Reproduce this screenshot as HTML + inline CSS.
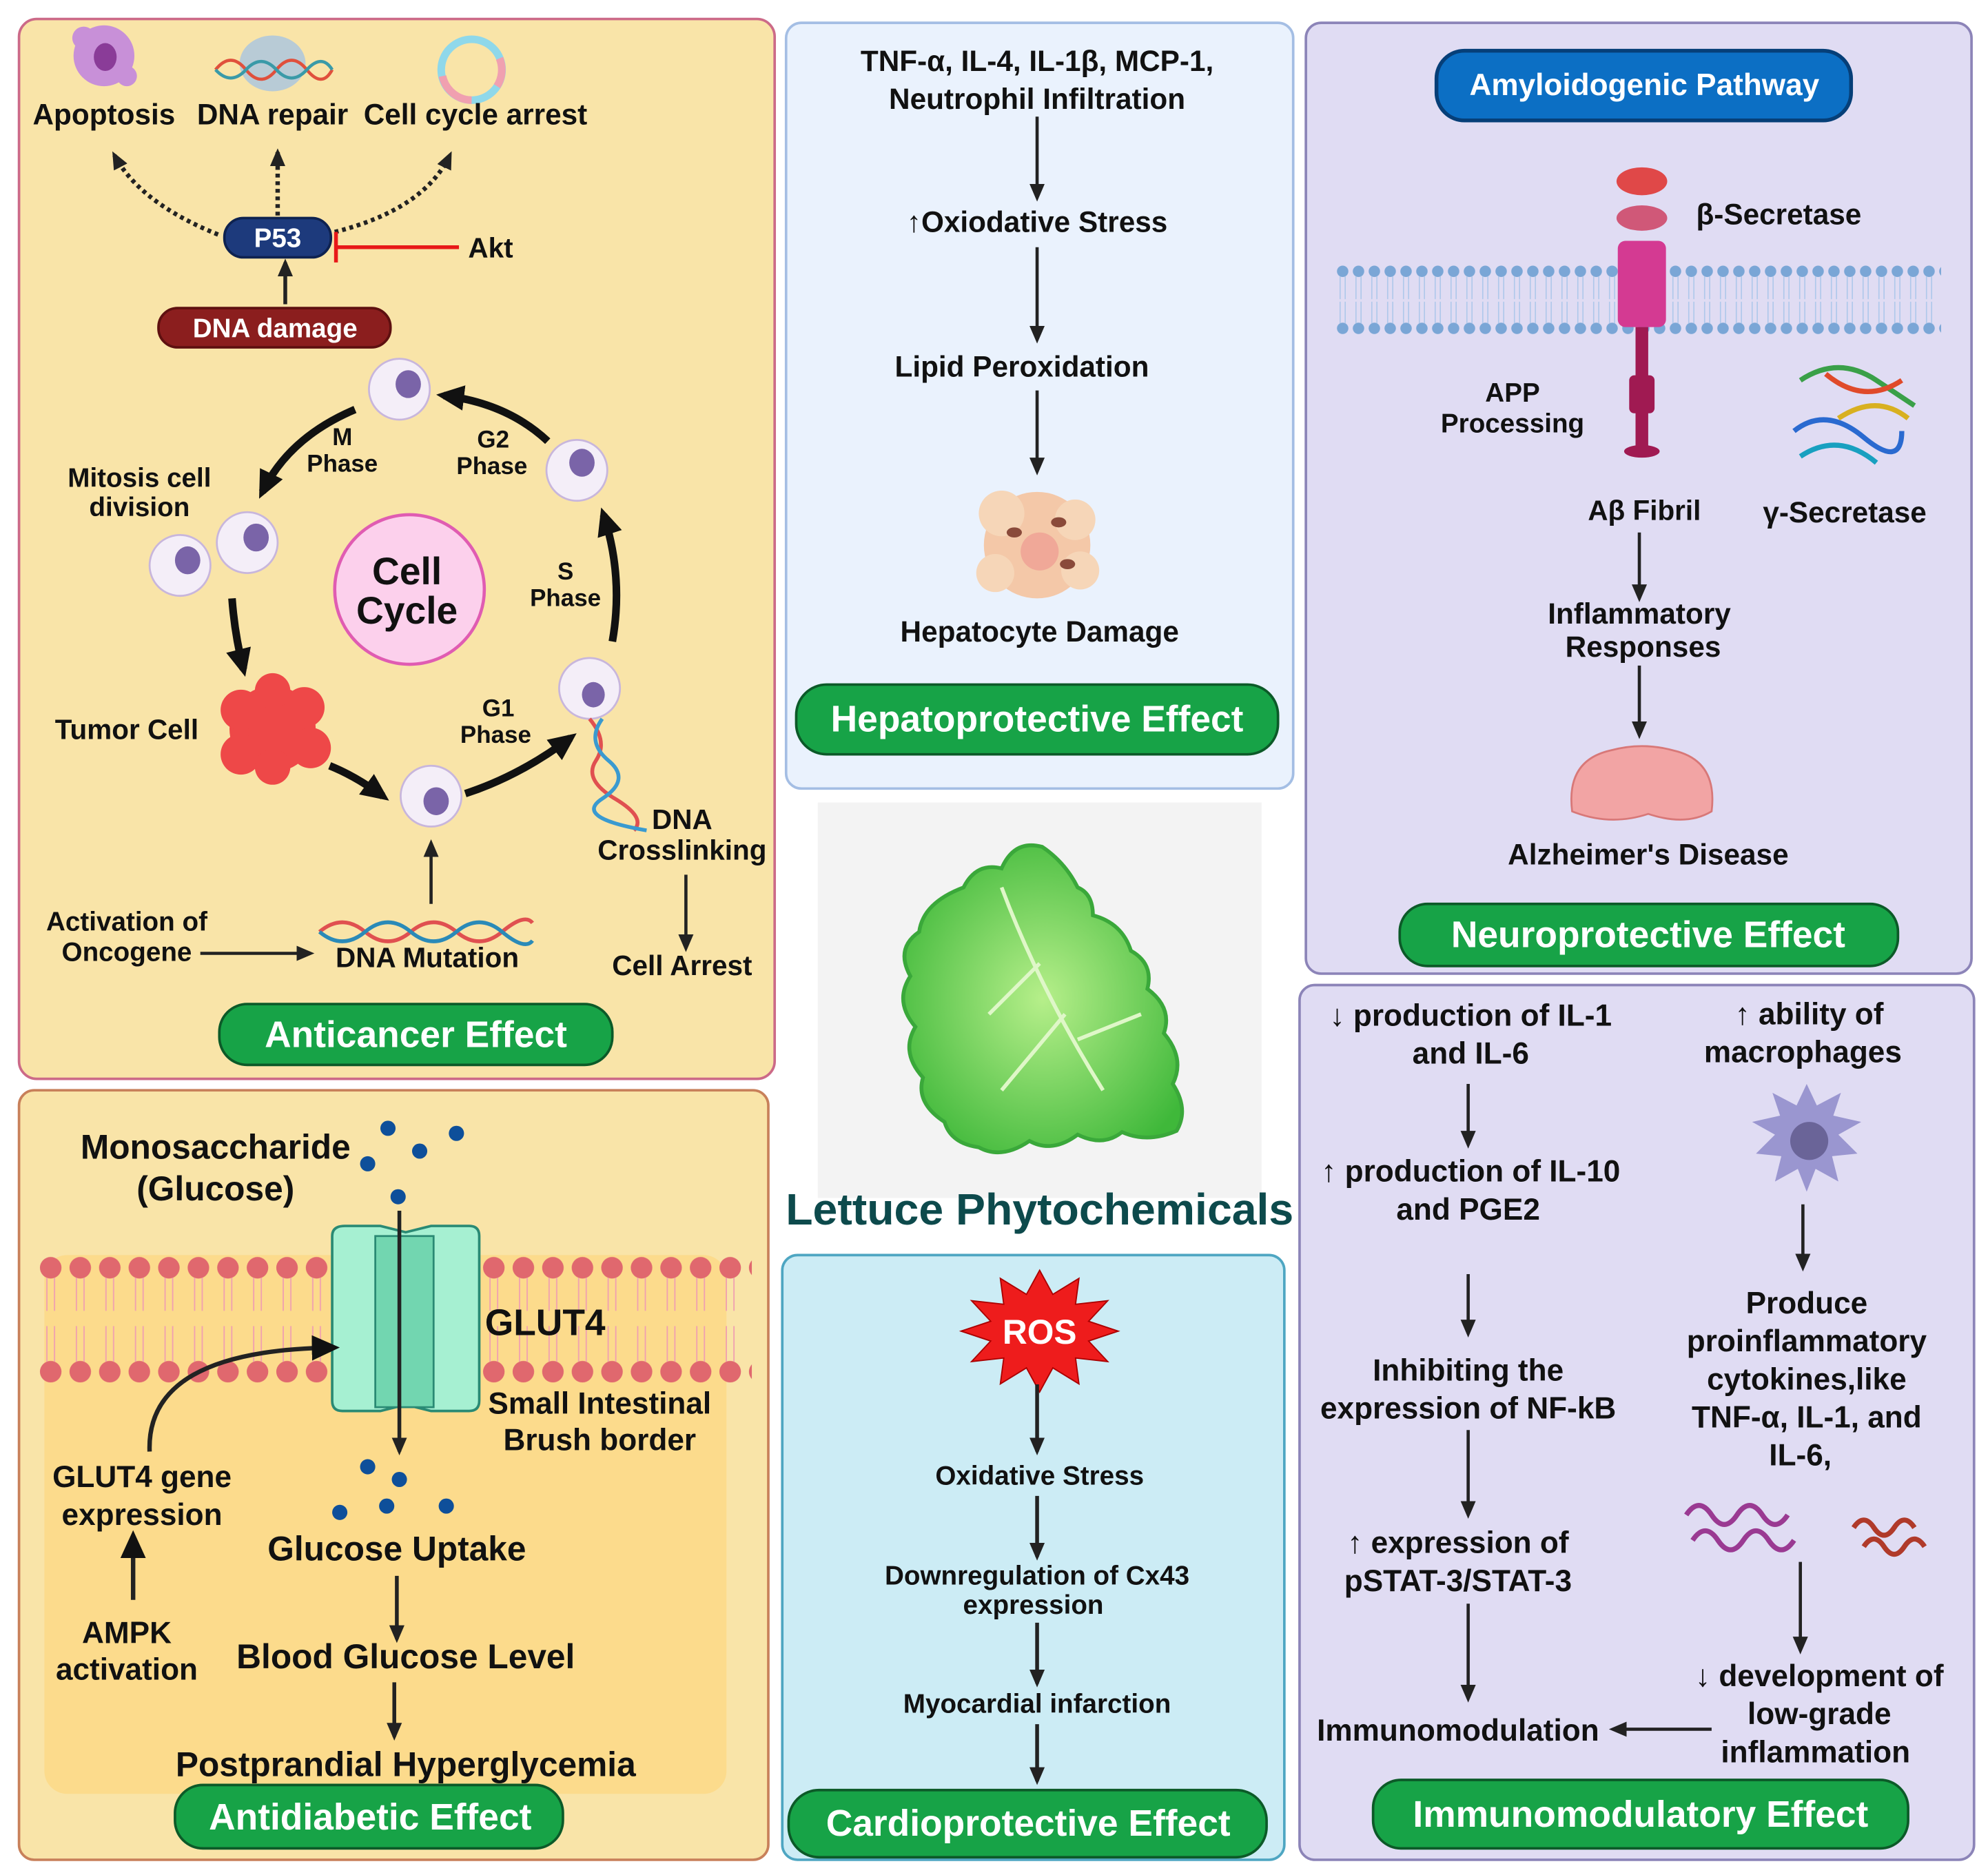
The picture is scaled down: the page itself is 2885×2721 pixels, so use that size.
<!DOCTYPE html>
<html><head><meta charset="utf-8"><style>
html,body{margin:0;padding:0;background:#fff}
svg{display:block}
text{font-family:"Liberation Sans",sans-serif;font-weight:bold;fill:#111}
.c{text-anchor:middle}
.w{fill:#fff}
</style></head><body>
<svg width="2885" height="2721" viewBox="0 0 1568 1479" preserveAspectRatio="none" xmlns="http://www.w3.org/2000/svg">
<defs>
<marker id="a" markerWidth="14" markerHeight="14" refX="11" refY="7" orient="auto" markerUnits="userSpaceOnUse"><path d="M0,1 L14,7 L0,13 z" fill="#222"/></marker>
<marker id="b" markerWidth="22" markerHeight="22" refX="16" refY="11" orient="auto" markerUnits="userSpaceOnUse"><path d="M0,1 L22,11 L0,21 z" fill="#111"/></marker>
<pattern id="heads" x="31" y="990" width="23.3" height="104" patternUnits="userSpaceOnUse">
<circle cx="9" cy="10" r="8.5" fill="#e0686e"/>
<circle cx="9" cy="92" r="8.5" fill="#e0686e"/>
<path d="M6,18 L6,44 M12,18 L12,44 M6,56 L6,84 M12,56 L12,84" stroke="#f0a0b0" stroke-width="1"/>
</pattern>
<pattern id="bmem" x="1053" y="206" width="12.5" height="60" patternUnits="userSpaceOnUse">
<circle cx="6" cy="8" r="4.5" fill="#7aa6d6"/>
<circle cx="6" cy="53" r="4.5" fill="#7aa6d6"/>
<path d="M4,12 L4,30 M8,12 L8,30 M4,32 L4,49 M8,32 L8,49" stroke="#a9c6ea" stroke-width="0.8"/>
</pattern>
<radialGradient id="leaf" cx="0.5" cy="0.5" r="0.6"><stop offset="0" stop-color="#b6ef8a"/><stop offset="1" stop-color="#3fb83a"/></radialGradient>
</defs>

<!-- ========== ANTICANCER ========== -->
<rect x="15" y="15" width="596" height="836" rx="14" fill="#f9e4a8" stroke="#cc6a88" stroke-width="2"/>
<circle cx="82" cy="44" r="24" fill="#c890d8"/><circle cx="66" cy="30" r="9" fill="#c890d8"/><circle cx="100" cy="60" r="8" fill="#c890d8"/><ellipse cx="83" cy="45" rx="9" ry="11" fill="#8a3c98"/>
<ellipse cx="215" cy="50" rx="26" ry="22" fill="#b8cbd6"/>
<path d="M170,55 Q182,40 194,55 T218,55 T242,55 T262,55" stroke="#e0503c" stroke-width="2.5" fill="none"/>
<path d="M170,55 Q182,68 194,55 T218,55 T242,55 T262,55" stroke="#3a9aa8" stroke-width="2.5" fill="none"/>
<circle cx="372" cy="55" r="24" fill="none" stroke="#8fd8ea" stroke-width="6"/>
<path d="M372,79 A24,24 0 0 1 349,60" stroke="#f0a0b0" stroke-width="6" fill="none"/>
<path d="M394,46 A24,24 0 0 1 392,68" stroke="#f0a0b0" stroke-width="6" fill="none"/>
<text x="82" y="98" class="c" font-size="23">Apoptosis</text>
<text x="215" y="98" class="c" font-size="23">DNA repair</text>
<text x="375" y="98" class="c" font-size="23">Cell cycle arrest</text>
<path d="M172,185 Q110,160 90,122" stroke="#222" stroke-width="3.5" stroke-dasharray="3,3" fill="none" marker-end="url(#a)"/>
<path d="M219,170 L219,120" stroke="#222" stroke-width="3.5" stroke-dasharray="3,3" fill="none" marker-end="url(#a)"/>
<path d="M264,183 Q335,165 355,122" stroke="#222" stroke-width="3.5" stroke-dasharray="3,3" fill="none" marker-end="url(#a)"/>
<rect x="177" y="172" width="84" height="31" rx="15" fill="#1d3a7c" stroke="#0e2250" stroke-width="2"/>
<text x="219" y="195" class="c w" font-size="21">P53</text>
<line x1="264" y1="195" x2="362" y2="195" stroke="#e81818" stroke-width="3"/>
<line x1="265" y1="183" x2="265" y2="207" stroke="#e81818" stroke-width="3"/>
<text x="387" y="203" class="c" font-size="22">Akt</text>
<line x1="225" y1="240" x2="225" y2="207" stroke="#222" stroke-width="3" marker-end="url(#a)"/>
<rect x="125" y="243" width="183" height="31" rx="15" fill="#8b1e1e" stroke="#5e1010" stroke-width="2"/>
<text x="217" y="266" class="c w" font-size="21">DNA damage</text>
<circle cx="323" cy="465" r="59" fill="#fcd0ec" stroke="#e05cb2" stroke-width="2.5"/>
<text x="321" y="461" class="c" font-size="30">Cell</text>
<text x="321" y="492" class="c" font-size="30">Cycle</text>
<g fill="#f4eef8" stroke="#c8b6dc" stroke-width="1.5">
<circle cx="315" cy="307" r="24"/><circle cx="455" cy="371" r="24"/><circle cx="195" cy="428" r="24"/><circle cx="142" cy="446" r="24"/><circle cx="465" cy="543" r="24"/><circle cx="340" cy="628" r="24"/>
</g>
<g fill="#7a64a8">
<ellipse cx="322" cy="303" rx="10" ry="11"/><ellipse cx="459" cy="365" rx="10" ry="11"/><ellipse cx="202" cy="424" rx="10" ry="11"/><ellipse cx="148" cy="442" rx="10" ry="11"/><ellipse cx="468" cy="548" rx="9" ry="10"/><ellipse cx="344" cy="632" rx="10" ry="11"/>
</g>
<g fill="none" stroke="#111" stroke-width="6">
<path d="M280,323 Q228,345 207,388" marker-end="url(#b)"/>
<path d="M432,348 Q400,318 350,312" marker-end="url(#b)"/>
<path d="M483,506 Q492,455 476,406" marker-end="url(#b)"/>
<path d="M183,472 Q185,500 192,528" marker-end="url(#b)"/>
<path d="M260,604 Q280,612 302,628" marker-end="url(#b)"/>
<path d="M367,626 Q410,612 450,582" marker-end="url(#b)"/>
</g>
<g fill="#ee4848"><circle cx="215" cy="575" r="34"/><circle cx="190" cy="560" r="16"/><circle cx="240" cy="558" r="16"/><circle cx="245" cy="590" r="16"/><circle cx="190" cy="595" r="16"/><circle cx="215" cy="545" r="14"/><circle cx="215" cy="605" r="14"/></g>
<text x="270" y="351" class="c" font-size="19">M</text><text x="270" y="372" class="c" font-size="19">Phase</text>
<text x="389" y="353" class="c" font-size="19">G2</text><text x="388" y="374" class="c" font-size="19">Phase</text>
<text x="110" y="384" class="c" font-size="21">Mitosis cell</text><text x="110" y="407" class="c" font-size="21">division</text>
<text x="446" y="457" class="c" font-size="19">S</text><text x="446" y="478" class="c" font-size="19">Phase</text>
<text x="393" y="565" class="c" font-size="19">G1</text><text x="391" y="586" class="c" font-size="19">Phase</text>
<text x="100" y="583" class="c" font-size="22">Tumor Cell</text>
<path d="M465,567 Q480,585 470,600 T485,630 T500,655" stroke="#e05050" stroke-width="3" fill="none"/>
<path d="M475,567 Q462,585 480,600 T475,630 T510,655" stroke="#3a9ad0" stroke-width="3" fill="none"/>
<text x="538" y="654" class="c" font-size="22">DNA</text><text x="538" y="678" class="c" font-size="22">Crosslinking</text>
<line x1="541" y1="690" x2="541" y2="748" stroke="#222" stroke-width="2.5" marker-end="url(#a)"/>
<text x="538" y="769" class="c" font-size="22">Cell Arrest</text>
<text x="100" y="734" class="c" font-size="21">Activation of</text><text x="100" y="758" class="c" font-size="21">Oncogene</text>
<line x1="158" y1="752" x2="245" y2="752" stroke="#222" stroke-width="2.5" marker-end="url(#a)"/>
<path d="M252,735 Q270,720 288,735 T324,735 T360,735 T396,735 T420,728" stroke="#e05050" stroke-width="3" fill="none"/>
<path d="M252,735 Q270,750 288,735 T324,735 T360,735 T396,735 T420,742" stroke="#2a8ab8" stroke-width="3" fill="none"/>
<text x="337" y="763" class="c" font-size="22">DNA Mutation</text>
<line x1="340" y1="713" x2="340" y2="665" stroke="#222" stroke-width="2.5" marker-end="url(#a)"/>
<rect x="173" y="792" width="310" height="48" rx="22" fill="#17a347" stroke="#0c5a28" stroke-width="2"/>
<text x="328" y="826" class="c w" font-size="29">Anticancer Effect</text>

<!-- ========== HEPATO ========== -->
<rect x="620" y="18" width="400" height="604" rx="12" fill="#eaf2fd" stroke="#a4bee4" stroke-width="2"/>
<text x="818" y="56" class="c" font-size="23">TNF-α, IL-4, IL-1β, MCP-1,</text>
<text x="818" y="86" class="c" font-size="23">Neutrophil Infiltration</text>
<line x1="818" y1="92" x2="818" y2="156" stroke="#222" stroke-width="2.5" marker-end="url(#a)"/>
<text x="818" y="183" class="c" font-size="23">↑Oxiodative Stress</text>
<line x1="818" y1="195" x2="818" y2="268" stroke="#222" stroke-width="2.5" marker-end="url(#a)"/>
<text x="806" y="297" class="c" font-size="23">Lipid Peroxidation</text>
<line x1="818" y1="308" x2="818" y2="372" stroke="#222" stroke-width="2.5" marker-end="url(#a)"/>
<g><circle cx="818" cy="430" r="42" fill="#f4c8a8"/><circle cx="790" cy="405" r="18" fill="#f6d6b8"/><circle cx="848" cy="410" r="16" fill="#f6d6b8"/><circle cx="852" cy="450" r="15" fill="#f6d6b8"/><circle cx="785" cy="452" r="15" fill="#f6d6b8"/><circle cx="820" cy="435" r="15" fill="#f0a898"/><ellipse cx="800" cy="420" rx="6" ry="4" fill="#8a4a3a"/><ellipse cx="835" cy="412" rx="6" ry="4" fill="#8a4a3a"/><ellipse cx="842" cy="445" rx="6" ry="4" fill="#8a4a3a"/></g>
<text x="820" y="506" class="c" font-size="23">Hepatocyte Damage</text>
<rect x="628" y="540" width="380" height="55" rx="24" fill="#17a347" stroke="#0c5a28" stroke-width="2"/>
<text x="818" y="577" class="c w" font-size="29">Hepatoprotective Effect</text>

<!-- ========== NEURO ========== -->
<rect x="1030" y="18" width="525" height="750" rx="12" fill="#e0dcf3" stroke="#8c84b8" stroke-width="2"/>
<rect x="1133" y="40" width="327" height="55" rx="22" fill="#0c6fc4" stroke="#063f78" stroke-width="3"/>
<text x="1297" y="75" class="c w" font-size="24">Amyloidogenic Pathway</text>
<rect x="1053" y="206" width="478" height="62" fill="url(#bmem)"/>
<ellipse cx="1295" cy="143" rx="20" ry="11" fill="#e04848"/>
<ellipse cx="1295" cy="172" rx="20" ry="10" fill="#d05878"/>
<rect x="1276" y="190" width="38" height="68" rx="6" fill="#d43a92"/>
<rect x="1290" y="258" width="10" height="100" fill="#a01a52"/>
<rect x="1285" y="296" width="20" height="30" rx="4" fill="#a01a52"/>
<ellipse cx="1295" cy="356" rx="14" ry="5" fill="#a01a52"/>
<text x="1403" y="177" class="c" font-size="23">β-Secretase</text>
<text x="1193" y="317" class="c" font-size="21">APP</text><text x="1193" y="341" class="c" font-size="21">Processing</text>
<g fill="none" stroke-width="4"><path d="M1420,300 Q1450,280 1480,300 T1510,320" stroke="#3aa048"/><path d="M1415,340 Q1440,320 1470,345 T1500,340" stroke="#2a6ad0"/><path d="M1420,360 Q1450,340 1480,365" stroke="#18a0c0"/><path d="M1440,295 Q1470,320 1500,300" stroke="#e04a2a"/><path d="M1450,330 Q1480,310 1505,330" stroke="#d8b020"/></g>
<text x="1297" y="410" class="c" font-size="22">Aβ Fibril</text>
<text x="1455" y="412" class="c" font-size="23">γ-Secretase</text>
<line x1="1293" y1="420" x2="1293" y2="472" stroke="#222" stroke-width="2.5" marker-end="url(#a)"/>
<text x="1293" y="492" class="c" font-size="23">Inflammatory</text><text x="1296" y="518" class="c" font-size="23">Responses</text>
<line x1="1293" y1="525" x2="1293" y2="580" stroke="#222" stroke-width="2.5" marker-end="url(#a)"/>
<path d="M1240,640 Q1235,600 1270,592 Q1295,585 1320,592 Q1355,600 1350,640 Q1330,652 1300,642 Q1270,652 1240,640 z" fill="#f2a4a4" stroke="#d87878" stroke-width="1.5"/>
<text x="1300" y="682" class="c" font-size="23">Alzheimer's Disease</text>
<rect x="1104" y="713" width="393" height="49" rx="22" fill="#17a347" stroke="#0c5a28" stroke-width="2"/>
<text x="1300" y="747" class="c w" font-size="29">Neuroprotective Effect</text>

<!-- ========== LETTUCE ========== -->
<rect x="645" y="633" width="350" height="312" fill="#f3f3f3"/>
<path d="M760,700 Q770,680 790,685 Q800,662 822,668 Q840,680 850,700 Q862,705 862,722 Q885,728 892,750 Q910,760 905,780 Q925,795 918,815 Q935,835 925,855 Q938,875 928,892 Q905,902 885,893 Q870,905 850,895 Q830,910 812,900 Q790,915 772,905 Q750,902 745,885 Q722,870 728,850 Q710,830 722,810 Q705,790 718,770 Q706,748 725,735 Q728,712 760,700 z" fill="url(#leaf)" stroke="#3aa83a" stroke-width="3"/>
<path d="M790,700 Q820,780 870,860 M820,760 L780,800 M840,800 L790,860 M850,820 L900,800" stroke="#dff7c8" stroke-width="3" fill="none"/>
<text x="820" y="966" class="c" font-size="35" style="fill:#0d4a4c">Lettuce Phytochemicals</text>

<!-- ========== ANTIDIABETIC ========== -->
<rect x="15" y="860" width="591" height="607" rx="12" fill="#f9e4a8" stroke="#c8805a" stroke-width="2"/>
<rect x="35" y="990" width="538" height="425" rx="18" fill="#fcdb8c"/>
<rect x="31" y="990" width="562" height="104" fill="url(#heads)"/>
<path d="M262,975 Q262,967 272,967 L300,967 L320,972 L340,967 L370,967 Q378,967 378,975 L378,1105 Q378,1113 370,1113 L340,1113 L320,1108 L300,1113 L270,1113 Q262,1113 262,1105 z" fill="#a6f0d2" stroke="#2a8a74" stroke-width="2"/>
<rect x="296" y="975" width="46" height="135" fill="#72d6b0" stroke="#2a8a74" stroke-width="1.5"/>
<g fill="#0e4f9a"><circle cx="306" cy="890" r="6"/><circle cx="360" cy="894" r="6"/><circle cx="290" cy="918" r="6"/><circle cx="331" cy="908" r="6"/><circle cx="314" cy="944" r="6"/><circle cx="290" cy="1157" r="6"/><circle cx="315" cy="1167" r="6"/><circle cx="268" cy="1193" r="6"/><circle cx="305" cy="1188" r="6"/><circle cx="352" cy="1188" r="6"/></g>
<text x="170" y="914" class="c" font-size="27">Monosaccharide</text>
<text x="170" y="947" class="c" font-size="27">(Glucose)</text>
<line x1="315" y1="955" x2="315" y2="1145" stroke="#222" stroke-width="3" marker-end="url(#a)"/>
<text x="430" y="1053" class="c" font-size="29">GLUT4</text>
<text x="473" y="1115" class="c" font-size="24">Small Intestinal</text>
<text x="473" y="1144" class="c" font-size="24">Brush border</text>
<path d="M118,1145 Q115,1065 262,1063" stroke="#222" stroke-width="3.5" fill="none" marker-end="url(#b)"/>
<text x="112" y="1173" class="c" font-size="24">GLUT4 gene</text><text x="112" y="1203" class="c" font-size="24">expression</text>
<line x1="105" y1="1262" x2="105" y2="1213" stroke="#222" stroke-width="3.5" marker-end="url(#b)"/>
<text x="100" y="1296" class="c" font-size="24">AMPK</text><text x="100" y="1325" class="c" font-size="24">activation</text>
<text x="313" y="1231" class="c" font-size="27">Glucose Uptake</text>
<line x1="313" y1="1243" x2="313" y2="1293" stroke="#222" stroke-width="3" marker-end="url(#a)"/>
<text x="320" y="1316" class="c" font-size="27">Blood Glucose Level</text>
<line x1="311" y1="1327" x2="311" y2="1370" stroke="#222" stroke-width="3" marker-end="url(#a)"/>
<text x="320" y="1401" class="c" font-size="27">Postprandial Hyperglycemia</text>
<rect x="138" y="1408" width="306" height="50" rx="22" fill="#17a347" stroke="#0c5a28" stroke-width="2"/>
<text x="292" y="1443" class="c w" font-size="29">Antidiabetic Effect</text>

<!-- ========== CARDIO ========== -->
<rect x="617" y="990" width="396" height="477" rx="12" fill="#ccecf5" stroke="#4ea6c2" stroke-width="2"/>
<polygon points="882,1050 858.6,1057.8 873.7,1074 848.3,1071.2 851,1091.6 830.4,1079 820,1098 809.6,1079 789,1091.6 791.7,1071.2 766.3,1074 781.4,1057.8 758,1050 781.4,1042.2 766.3,1026 791.7,1028.8 789,1008.4 809.6,1021 820,1002 830.4,1021 851,1008.4 848.3,1028.8 873.7,1026 858.6,1042.2" fill="#ee1c1c" stroke="#a00" stroke-width="1"/>
<text x="820" y="1060" class="c w" font-size="27">ROS</text>
<line x1="818" y1="1092" x2="818" y2="1145" stroke="#222" stroke-width="3" marker-end="url(#a)"/>
<text x="820" y="1171" class="c" font-size="21">Oxidative Stress</text>
<line x1="818" y1="1180" x2="818" y2="1228" stroke="#222" stroke-width="3" marker-end="url(#a)"/>
<text x="818" y="1250" class="c" font-size="21">Downregulation of Cx43</text>
<text x="815" y="1273" class="c" font-size="21">expression</text>
<line x1="818" y1="1280" x2="818" y2="1328" stroke="#222" stroke-width="3" marker-end="url(#a)"/>
<text x="818" y="1351" class="c" font-size="21">Myocardial infarction</text>
<line x1="818" y1="1360" x2="818" y2="1405" stroke="#222" stroke-width="3" marker-end="url(#a)"/>
<rect x="622" y="1412" width="377" height="53" rx="24" fill="#17a347" stroke="#0c5a28" stroke-width="2"/>
<text x="811" y="1448" class="c w" font-size="29">Cardioprotective Effect</text>

<!-- ========== IMMUNO ========== -->
<rect x="1025" y="777" width="532" height="690" rx="12" fill="#e0dcf3" stroke="#8c84b8" stroke-width="2"/>
<g font-size="24">
<text x="1160" y="809" class="c">↓ production of IL-1</text>
<text x="1160" y="839" class="c">and IL-6</text>
<text x="1160" y="932" class="c">↑ production of IL-10</text>
<text x="1158" y="962" class="c">and PGE2</text>
<text x="1158" y="1089" class="c">Inhibiting the</text>
<text x="1158" y="1119" class="c">expression of NF-kB</text>
<text x="1150" y="1225" class="c">↑ expression of</text>
<text x="1150" y="1255" class="c">pSTAT-3/STAT-3</text>
<text x="1150" y="1373" class="c">Immunomodulation</text>
<text x="1427" y="808" class="c">↑ ability of</text>
<text x="1422" y="838" class="c">macrophages</text>
<text x="1425" y="1036" class="c">Produce</text>
<text x="1425" y="1066" class="c">proinflammatory</text>
<text x="1425" y="1096" class="c">cytokines,like</text>
<text x="1425" y="1126" class="c">TNF-α, IL-1, and</text>
<text x="1420" y="1156" class="c">IL-6,</text>
<text x="1435" y="1330" class="c">↓ development of</text>
<text x="1435" y="1360" class="c">low-grade</text>
<text x="1432" y="1390" class="c">inflammation</text>
</g>
<g stroke="#222" stroke-width="2.5" marker-end="url(#a)">
<line x1="1158" y1="855" x2="1158" y2="903"/>
<line x1="1158" y1="1005" x2="1158" y2="1052"/>
<line x1="1158" y1="1128" x2="1158" y2="1195"/>
<line x1="1158" y1="1265" x2="1158" y2="1340"/>
<line x1="1422" y1="950" x2="1422" y2="1000"/>
<line x1="1420" y1="1232" x2="1420" y2="1302"/>
<line x1="1350" y1="1364" x2="1272" y2="1364"/>
</g>
<polygon points="1425,855 1433,872 1452,862 1446,880 1468,885 1450,895 1465,910 1445,912 1450,932 1432,922 1425,940 1418,922 1400,932 1405,912 1385,910 1400,895 1382,885 1404,880 1398,862 1417,872" fill="#9a96d0"/>
<circle cx="1427" cy="900" r="15" fill="#6a6498"/>
<g fill="none" stroke="#9a3a92" stroke-width="4"><path d="M1330,1195 q10,-15 20,0 t20,0 t20,0 t20,0"/><path d="M1335,1215 q10,-15 20,0 t20,0 t20,0 t20,0"/></g>
<g fill="none" stroke="#b03a2a" stroke-width="4"><path d="M1462,1205 q8,-12 16,0 t16,0 t16,0"/><path d="M1470,1220 q8,-12 16,0 t16,0 t16,0"/></g>
<rect x="1083" y="1404" width="422" height="54" rx="22" fill="#17a347" stroke="#0c5a28" stroke-width="2"/>
<text x="1294" y="1441" class="c w" font-size="29">Immunomodulatory Effect</text>
</svg>
</body></html>
